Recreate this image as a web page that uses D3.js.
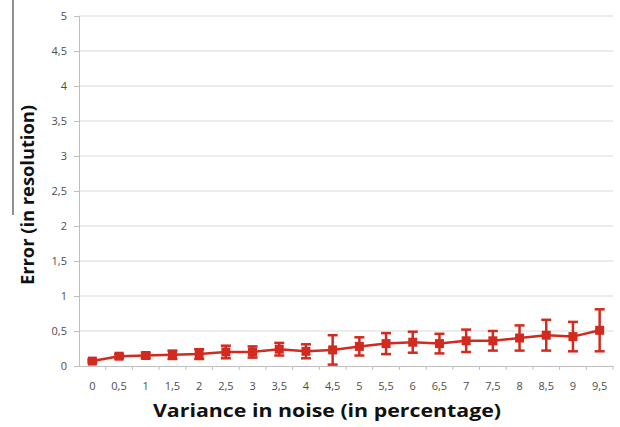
<!DOCTYPE html>
<html lang="en">
<head>
    <meta charset="UTF-8">
    <title>Error vs variance</title>
    <script src="https://d3js.org/d3.v7.min.js"></script>
    <style>
        body {margin: 0; background: white;}
        text {font-family: "Open Sans", sans-serif;}
        .tick text {fill: #4d4d4d; font-size: 11px;}
        .title {font-weight: bold; font-size: 18px; fill: #111;}
    </style>
</head>
<body>
<script>
    const width = 620;
    const height = 427;

    // data
    const noise = ["0","0,5","1","1,5","2","2,5","3","3,5","4","4,5","5","5,5","6","6,5","7","7,5","8","8,5","9","9,5"];
    const error = [0.07,0.14,0.15,0.16,0.17,0.20,0.20,0.24,0.21,0.23,0.28,0.32,0.34,0.32,0.36,0.36,0.40,0.44,0.42,0.51];
    const spread = [0.02,0.03,0.04,0.06,0.07,0.09,0.08,0.09,0.10,0.21,0.13,0.15,0.15,0.14,0.16,0.14,0.18,0.22,0.21,0.30];
    const yTicks = [0,0.5,1,1.5,2,2.5,3,3.5,4,4.5,5];

    const margin = {top: 16, right: 7, bottom: 61, left: 79};
    const red = "#d22a1e";

    const svg = d3.select("body").append("svg")
            .attr("width", width).attr("height", height);

    const x = d3.scaleBand()
            .domain(noise)
            .range([margin.left, width - margin.right]);

    const y = d3.scaleLinear()
            .domain([0, 5])
            .range([height - margin.bottom, margin.top]);

    const comma = v => String(v).replace(".", ",");

    // gridlines
    svg.append("g")
            .selectAll("line")
            .data(yTicks.slice(1))
            .enter().append("line")
            .attr("x1", margin.left).attr("x2", width - margin.right)
            .attr("y1", d => y(d)).attr("y2", d => y(d))
            .style("stroke", "#d9d9d9").style("stroke-width", 1.2);

    // y axis
    const yAxis = svg.append("g")
            .attr("transform", `translate(${margin.left},0)`)
            .call(d3.axisLeft(y).tickValues(yTicks).tickFormat(comma).tickSize(5).tickPadding(7));
    yAxis.selectAll("line, path").style("stroke", "#bfbfbf");

    // x axis with ticks between categories
    const xAxis = svg.append("g")
            .attr("transform", `translate(0,${y(0)})`)
            .call(d3.axisBottom(x).tickSize(0).tickPadding(16));
    xAxis.select("path").style("stroke", "#bfbfbf");
    xAxis.selectAll(".tick line").remove();
    svg.append("g").selectAll("line")
            .data(noise)
            .enter().append("line")
            .attr("x1", d => x(d) + x.bandwidth()).attr("x2", d => x(d) + x.bandwidth())
            .attr("y1", y(0)).attr("y2", y(0) + 4)
            .style("stroke", "#bfbfbf");

    const pts = noise.map((n, i) => ({n: n, v: error[i], e: spread[i]}));
    const cx = d => x(d.n) + x.bandwidth() / 2;

    // error bars
    const bars = svg.append("g").selectAll("g")
            .data(pts)
            .enter().append("g")
            .style("stroke", red).style("stroke-width", 2.5);
    bars.append("line")
            .attr("x1", cx).attr("x2", cx)
            .attr("y1", d => y(d.v - d.e)).attr("y2", d => y(d.v + d.e));
    bars.append("line")
            .attr("x1", d => cx(d) - 5).attr("x2", d => cx(d) + 5)
            .attr("y1", d => y(d.v - d.e)).attr("y2", d => y(d.v - d.e));
    bars.append("line")
            .attr("x1", d => cx(d) - 5).attr("x2", d => cx(d) + 5)
            .attr("y1", d => y(d.v + d.e)).attr("y2", d => y(d.v + d.e));

    // the line
    svg.append("path")
            .datum(pts)
            .attr("d", d3.line().x(cx).y(d => y(d.v)))
            .style("fill", "none").style("stroke", red).style("stroke-width", 2.5);

    svg.append("g").selectAll("rect")
            .data(pts)
            .enter().append("rect")
            .attr("x", d => cx(d) - 4.5).attr("y", d => y(d.v) - 4.5)
            .attr("width", 9).attr("height", 9)
            .style("fill", red);

    // titles (the original is stretched a little, hence textLength)
    svg.append("text").attr("class", "title")
            .attr("text-anchor", "middle")
            .attr("transform", `translate(34,195) rotate(-90)`)
            .attr("textLength", 180).attr("lengthAdjust", "spacingAndGlyphs")
            .text("Error (in resolution)");

    svg.append("text").attr("class", "title")
            .attr("text-anchor", "middle")
            .attr("x", 327).attr("y", 417)
            .attr("textLength", 348).attr("lengthAdjust", "spacingAndGlyphs")
            .text("Variance in noise (in percentage)");

    // thin scan edge on the left
    svg.append("line")
            .attr("x1", 13).attr("x2", 13).attr("y1", 0).attr("y2", 215)
            .style("stroke", "#222").style("stroke-width", 1);
</script>
</body>
</html>
